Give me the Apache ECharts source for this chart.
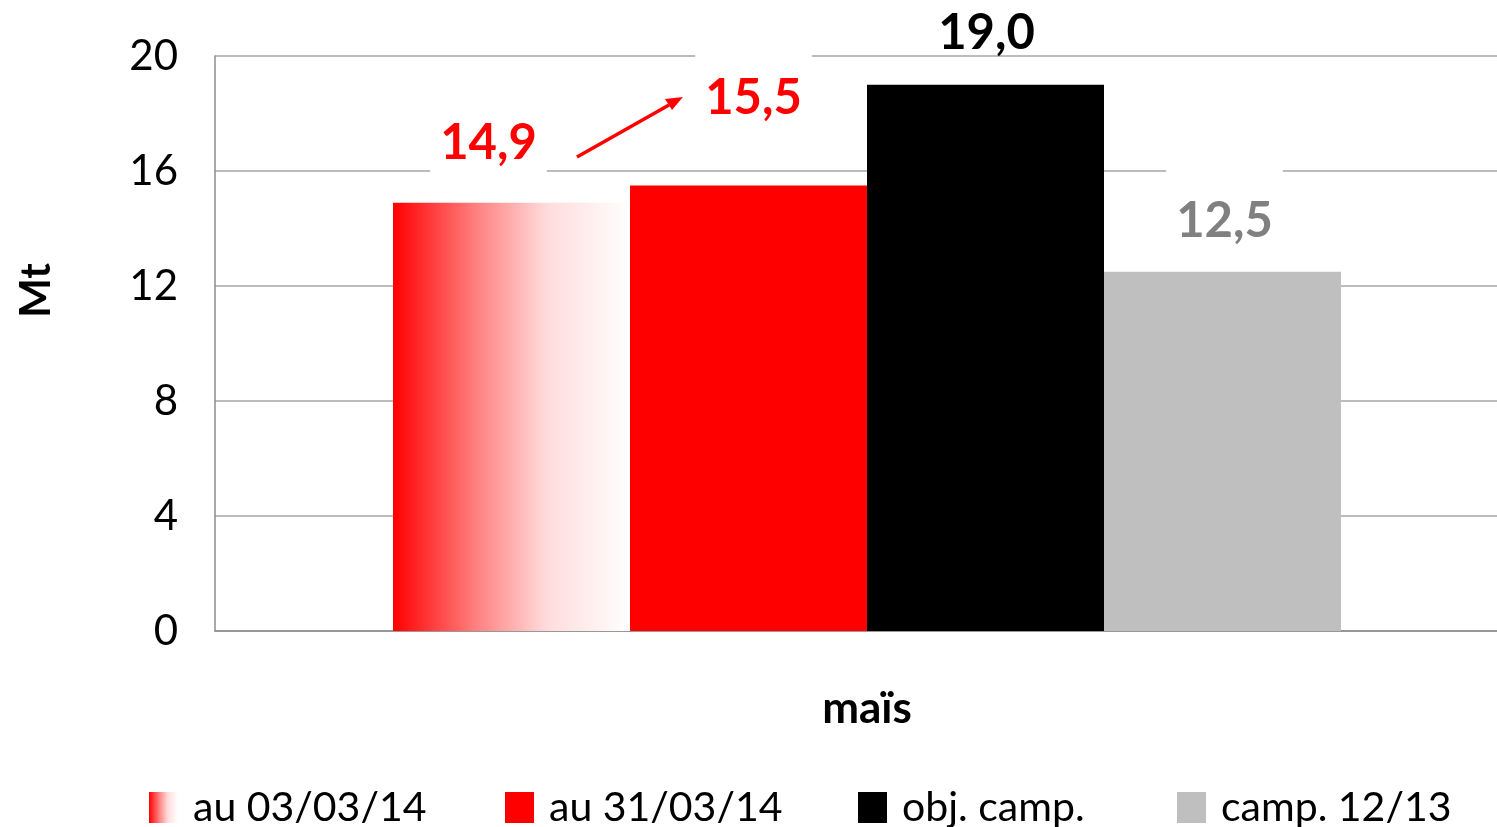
<!DOCTYPE html>
<html>
<head>
<meta charset="utf-8">
<script src="https://cdn.jsdelivr.net/npm/echarts@6/dist/echarts.min.js"></script>
<style>
    html, body { margin: 0; padding: 0; background: #fff; }
    #main { width: 1497px; height: 827px; }
</style>
</head>
<body>
<div id="main"></div>
<script>
// données
var categories = ['maïs'];
var seriesNames = ['au 03/03/14', 'au 31/03/14', 'obj. camp.', 'camp. 12/13'];
var au0303 = [14.9];
var au3103 = [15.5];
var objCamp = [19.0];
var camp1213 = [12.5];
var yTicks = [0, 4, 8, 12, 16, 20];

var FONT = 'Lato';

function fmt(v) {
    return v.toFixed(1).replace('.', ',');
}

var myChart = echarts.init(document.getElementById('main'));

var gradRed = new echarts.graphic.LinearGradient(0, 0, 1, 0, [
    { offset: 0, color: '#ff0000' },
    { offset: 0.35, color: '#ff8080' },
    { offset: 0.65, color: '#ffdcdc' },
    { offset: 1, color: '#ffffff' }
]);

// label style commun
function labelOpt(color, dx, dist, boxed) {
    var o = {
        show: true,
        position: 'top',
        distance: dist,
        offset: [dx, 0],
        color: color,
        fontFamily: FONT,
        fontWeight: 'bold',
        fontSize: 49,
        formatter: function (p) { return fmt(p.value); }
    };
    if (boxed) {
        o.backgroundColor = '#ffffff';
        o.padding = [36, 10, 12, 10];
    }
    return o;
}

function legendOpt(name, left) {
    return {
        data: [name],
        left: left,
        top: 787,
        padding: 0,
        itemWidth: 29,
        itemHeight: 31,
        icon: 'rect',
        textStyle: { fontFamily: FONT, fontSize: 41, color: '#000', padding: [0, 0, 0, 10] }
    };
}

var option = {
    backgroundColor: '#ffffff',
    animation: false,
    grid: { left: 215, right: -22, top: 56, bottom: 196, outerBoundsMode: 'none' },
    legend: [
        legendOpt(seriesNames[0], 149),
        legendOpt(seriesNames[1], 505),
        legendOpt(seriesNames[2], 858),
        legendOpt(seriesNames[3], 1177)
    ],
    xAxis: {
        type: 'category',
        data: categories,
        axisLine: { show: true, lineStyle: { color: '#8c8c8c', width: 1.5 } },
        axisTick: { show: false },
        axisLabel: { margin: 56, fontFamily: FONT, fontWeight: 'bold', fontSize: 44, color: '#000' }
    },
    yAxis: {
        type: 'value',
        min: yTicks[0],
        max: yTicks[yTicks.length - 1],
        interval: 4,
        name: 'Mt',
        nameLocation: 'middle',
        nameRotate: 90,
        nameGap: 158,
        nameTextStyle: { fontFamily: FONT, fontWeight: 'bold', fontSize: 42, color: '#000', padding: [0, 0, 0, 106] },
        axisLine: { show: true, lineStyle: { color: '#8c8c8c', width: 1.5 } },
        axisTick: { show: false },
        splitLine: { lineStyle: { color: '#a6a6a6', width: 1.5 } },
        axisLabel: { margin: 37, fontFamily: FONT, fontSize: 42, color: '#000', padding: [8, 0, 0, 0] }
    },
    series: [
        {
            name: seriesNames[0], type: 'bar', data: au0303,
            barWidth: 237, barGap: '0%',
            itemStyle: { color: gradRed },
            label: labelOpt('#ff0000', -23, 23, true)
        },
        {
            name: seriesNames[1], type: 'bar', data: au3103,
            barWidth: 237, barGap: '0%',
            itemStyle: { color: '#ff0000' },
            label: labelOpt('#ff0000', 5, 51, true)
        },
        {
            name: seriesNames[2], type: 'bar', data: objCamp,
            barWidth: 237, barGap: '0%',
            itemStyle: { color: '#000000' },
            label: labelOpt('#000000', 1, 27, false)
        },
        {
            name: seriesNames[3], type: 'bar', data: camp1213,
            barWidth: 237, barGap: '0%',
            itemStyle: { color: '#bfbfbf' },
            label: labelOpt('#808080', 2, 14, true)
        }
    ],
    // flèche entre les deux étiquettes
    graphic: [
        {
            type: 'line', z: 100,
            shape: { x1: 577, y1: 157, x2: 669, y2: 105 },
            style: { stroke: '#ff0000', lineWidth: 3.5 }
        },
        {
            type: 'polygon', z: 100,
            shape: { points: [[683, 97], [672, 110], [665, 99]] },
            style: { fill: '#ff0000' }
        }
    ]
};

myChart.setOption(option);
</script>
</body>
</html>
